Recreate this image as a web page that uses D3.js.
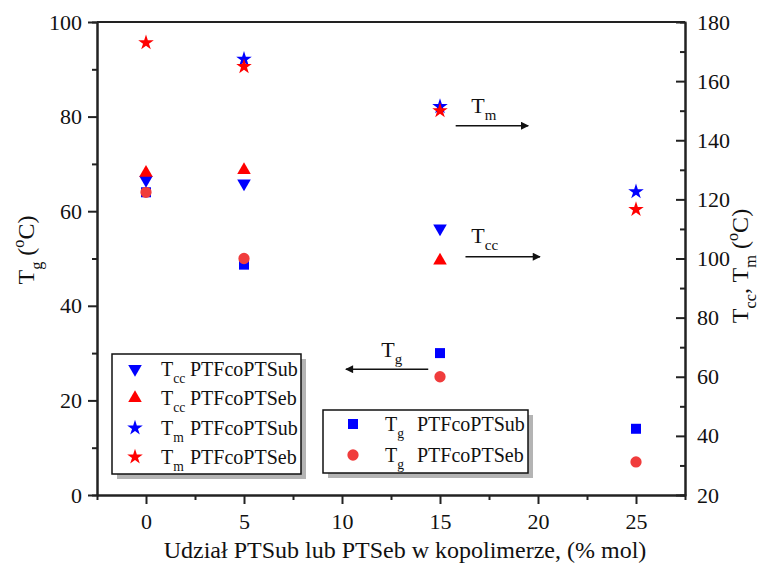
<!DOCTYPE html>
<html>
<head>
<meta charset="utf-8">
<script src="https://cdn.jsdelivr.net/npm/d3@7"></script>
<style>
  body { margin: 0; background: #fff; }
  svg { display: block; font-family: "Liberation Serif", "Times New Roman", "DejaVu Serif", serif; }
</style>
</head>
<body>
<svg width="764" height="569"></svg>
<script>
//================DATA=========================
const composition = [0, 5, 15, 25];             // % mol PTSub / PTSeb
const tgSub  = [64, 48.7, 30, 14];              // left axis
const tgSeb  = [64, 50, 25, 7];
const tccSub = [126.6, 125.4, 110.2, null];     // right axis
const tccSeb = [129, 129.9, 99.3, null];
const tmSub  = [null, 167.4, 151.4, 122.6];
const tmSeb  = [173, 164.9, 150, 116.6];

const xTicks = [0, 5, 10, 15, 20, 25];
const leftTicks = [0, 20, 40, 60, 80, 100];
const rightTicks = [20, 40, 60, 80, 100, 120, 140, 160, 180];

//================LAYOUT=========================
const plotL = 97, plotR = 685, plotT = 22, plotB = 495;
const serif = '"Liberation Serif", "Times New Roman", serif';
const blue = '#0000ff', red = '#ff0000', redCircle = '#f03c3c';

const svg = d3.select('svg');

const x = d3.scaleLinear().domain([-2.5, 27.5]).range([plotL, plotR]);
const yL = d3.scaleLinear().domain([0, 100]).range([plotB, plotT]);
const yR = d3.scaleLinear().domain([20, 180]).range([plotB, plotT]);

//--------text with sub/superscripts (shift carried to the next tspan)
function richText(sel, parts, size) {
  sel.attr('font-family', serif).attr('font-size', size).attr('fill', '#111');
  let back = 0;
  parts.forEach(p => {
    const [t, kind] = p;
    if (!kind) {
      const ts = sel.append('tspan').text(t);
      if (back) ts.attr('dy', back);
      back = 0;
    } else {
      const shift = kind === 'sub' ? 0.33 * size : -0.42 * size;
      sel.append('tspan').attr('dy', shift + back).attr('font-size', size * 0.68).text(t);
      back = -shift;
    }
  });
  return sel;
}

//================AXES=========================
function styleAxis(g) {
  g.select('.domain').attr('stroke', '#222').attr('stroke-width', 2);
  g.selectAll('.tick line').attr('stroke', '#222').attr('stroke-width', 2);
  g.selectAll('.tick text').attr('font-size', 22).attr('fill', '#111')
    .attr('font-family', serif);
}

const minorX = d3.range(2.5, 25, 5);
const minorL = d3.range(10, 100, 20);
const minorR = d3.range(30, 180, 20);

// minor ticks
svg.append('g').attr('transform', `translate(0,${plotB})`)
  .call(d3.axisBottom(x).tickValues(minorX).tickSize(5).tickFormat(''))
  .call(styleAxis);
svg.append('g').attr('transform', `translate(${plotL},0)`)
  .call(d3.axisLeft(yL).tickValues(minorL).tickSize(5).tickFormat(''))
  .call(styleAxis);
svg.append('g').attr('transform', `translate(${plotR},0)`)
  .call(d3.axisRight(yR).tickValues(minorR).tickSize(-5).tickFormat(''))
  .call(styleAxis);
// drop the empty label nodes of the minor-tick axes
svg.selectAll('.tick text').filter(function () { return this.textContent === ''; }).remove();

// major ticks
svg.append('g').attr('transform', `translate(0,${plotB})`)
  .call(d3.axisBottom(x).tickValues(xTicks).tickSize(9).tickPadding(9).tickSizeOuter(0))
  .call(styleAxis);
svg.append('g').attr('transform', `translate(${plotL},0)`)
  .call(d3.axisLeft(yL).tickValues(leftTicks).tickSize(9).tickPadding(6).tickSizeOuter(0))
  .call(styleAxis);
svg.append('g').attr('transform', `translate(${plotR},0)`)
  .call(d3.axisRight(yR).tickValues(rightTicks).tickSize(-9).tickPadding(12).tickSizeOuter(0))
  .call(styleAxis);

// top frame line
svg.append('line')
  .attr('x1', plotL).attr('x2', plotR).attr('y1', plotT).attr('y2', plotT)
  .attr('stroke', '#222').attr('stroke-width', 2);

//================AXIS TITLES=========================
richText(svg.append('text')
  .attr('x', 405).attr('y', 558).attr('text-anchor', 'middle'),
  [['Udział PTSub lub PTSeb w kopolimerze, (% mol)']], 24);

richText(svg.append('text')
  .attr('transform', 'translate(34,250) rotate(-90)').attr('text-anchor', 'middle'),
  [['T'], ['g', 'sub'], [' ('], ['o', 'sup'], ['C)']], 24);

richText(svg.append('text')
  .attr('transform', 'translate(748,266) rotate(-90)').attr('text-anchor', 'middle'),
  [['T'], ['cc', 'sub'], [', T'], ['m', 'sub'], [' ('], ['o', 'sup'], ['C)']], 24);

//================MARKERS=========================
const sym = {
  square: d3.symbol().type(d3.symbolSquare).size(100),
  circle: d3.symbol().type(d3.symbolCircle).size(100),
  triangle: d3.symbol().type(d3.symbolTriangle).size(80),
  star: d3.symbol().type(d3.symbolStar).size(75)
};

const series = [
  { vals: tgSub,  y: yL, shape: 'square',   rot: 0,   color: blue },
  { vals: tgSeb,  y: yL, shape: 'circle',   rot: 0,   color: redCircle },
  { vals: tccSub, y: yR, shape: 'triangle', rot: 180, color: blue },
  { vals: tccSeb, y: yR, shape: 'triangle', rot: 0,   color: red },
  { vals: tmSub,  y: yR, shape: 'star',     rot: 0,   color: blue },
  { vals: tmSeb,  y: yR, shape: 'star',     rot: 0,   color: red }
];

series.forEach(s => {
  const pts = composition.map((c, i) => [c, s.vals[i]]).filter(d => d[1] != null);
  svg.append('g').selectAll('path')
    .data(pts)
    .join('path')
    .attr('d', sym[s.shape]())
    .attr('transform', d => `translate(${x(d[0])},${s.y(d[1])}) rotate(${s.rot})`)
    .attr('fill', s.color);
});

//================ARROW ANNOTATIONS=========================
svg.append('defs').append('marker')
  .attr('id', 'head').attr('viewBox', '0 0 10 10')
  .attr('refX', 9).attr('refY', 5)
  .attr('markerWidth', 12).attr('markerHeight', 8)
  .attr('markerUnits', 'userSpaceOnUse')
  .attr('orient', 'auto')
  .append('path').attr('d', 'M0,0 L10,5 L0,10 Z').attr('fill', '#111');

const arrows = [
  { x0: 15.8, x1: 19.5, v: 144.9, y: yR, label: [['T'], ['m', 'sub']],  lx: 16.6, ldy: -13 },
  { x0: 16.3, x1: 20.1, v: 100.6, y: yR, label: [['T'], ['cc', 'sub']], lx: 16.6, ldy: -14 },
  { x0: 14.4, x1: 10.2, v: 26.6,  y: yL, label: [['T'], ['g', 'sub']],  lx: 12.0, ldy: -12 }
];

arrows.forEach(a => {
  svg.append('line')
    .attr('x1', x(a.x0)).attr('x2', x(a.x1))
    .attr('y1', a.y(a.v)).attr('y2', a.y(a.v))
    .attr('stroke', '#111').attr('stroke-width', 1.5)
    .attr('marker-end', 'url(#head)');
  richText(svg.append('text')
    .attr('x', x(a.lx)).attr('y', a.y(a.v) + a.ldy), a.label, 22);
});

//================LEGENDS=========================
function legend(box, rows, symX, textX, nameX) {
  svg.append('rect')
    .attr('x', box[0] + 5).attr('y', box[1] + 5)
    .attr('width', box[2]).attr('height', box[3])
    .attr('fill', '#b4b4b4');
  svg.append('rect')
    .attr('x', box[0]).attr('y', box[1])
    .attr('width', box[2]).attr('height', box[3])
    .attr('fill', '#fff').attr('stroke', '#111').attr('stroke-width', 1.5);
  rows.forEach(r => {
    svg.append('path')
      .attr('d', sym[r.shape]())
      .attr('transform', `translate(${symX},${r.y}) rotate(${r.rot})`)
      .attr('fill', r.color);
    richText(svg.append('text')
      .attr('x', textX).attr('y', r.y + 7), r.sub, 20);
    richText(svg.append('text')
      .attr('x', nameX).attr('y', r.y + 7), [[r.name]], 20);
  });
}

legend([112, 354, 189, 120], [
  { y: 369, shape: 'triangle', rot: 180, color: blue, sub: [['T'], ['cc', 'sub']], name: 'PTFcoPTSub' },
  { y: 398, shape: 'triangle', rot: 0,   color: red,  sub: [['T'], ['cc', 'sub']], name: 'PTFcoPTSeb' },
  { y: 428, shape: 'star',     rot: 0,   color: blue, sub: [['T'], ['m', 'sub']],  name: 'PTFcoPTSub' },
  { y: 457, shape: 'star',     rot: 0,   color: red,  sub: [['T'], ['m', 'sub']],  name: 'PTFcoPTSeb' }
], 135, 161, 190);

legend([323, 410, 205, 63], [
  { y: 424, shape: 'square', rot: 0, color: blue,      sub: [['T'], ['g', 'sub']], name: 'PTFcoPTSub' },
  { y: 455, shape: 'circle', rot: 0, color: redCircle, sub: [['T'], ['g', 'sub']], name: 'PTFcoPTSeb' }
], 353, 385, 417);
</script>
</body>
</html>
